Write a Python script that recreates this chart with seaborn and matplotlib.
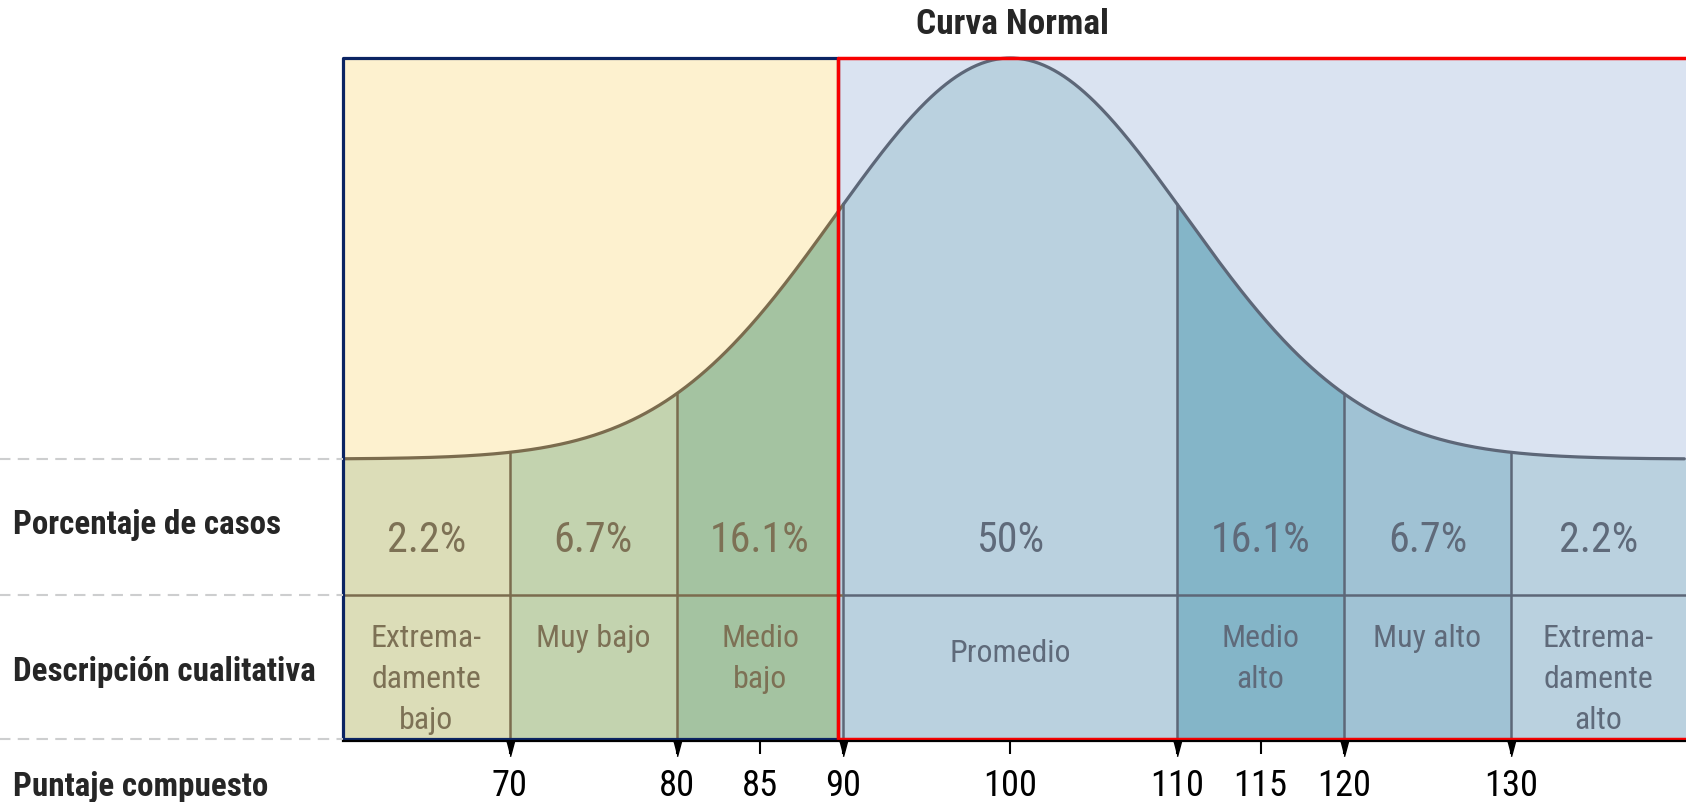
import numpy as np
import seaborn as sns
import matplotlib.pyplot as plt
from matplotlib import font_manager as fm

# scale and bands of the composite score
score_ticks = [70, 80, 85, 90, 100, 110, 115, 120, 130]
band_edges = [60, 70, 80, 90, 110, 120, 130, 140.5]
percents = ["2.2%", "6.7%", "16.1%", "50%", "16.1%", "6.7%", "2.2%"]
descriptions = ["Extrema-\ndamente\nbajo", "Muy bajo", "Medio\nbajo", "Promedio",
                "Medio\nalto", "Muy alto", "Extrema-\ndamente\nalto"]
row_labels = ["Porcentaje de casos", "Descripción cualitativa", "Puntaje compuesto"]
mean, sd = 100, 10.5

band_colors = ["#DCDDB8", "#C3D3AF", "#A4C3A1", "#BAD1DF", "#84B5C8", "#A0C2D4", "#BAD1DF"]
brown, slate = "#7B6C4E", "#5D6778"
brown_txt, slate_txt = "#7D7155", "#5F6A7A"
navy, red = "#0B2463", "#F80000"

sns.set_theme(style="white")

# the original uses a narrow grotesque; take the narrowest one installed
fonts = fm.fontManager.ttflist
names = {f.name for f in fonts}
stretch = "normal"
if "Liberation Sans Narrow" in names:
    fam = "Liberation Sans Narrow"
elif "Roboto Condensed" in names:
    fam = "Roboto Condensed"
elif any(f.name == "DejaVu Sans" and f.stretch == "condensed" for f in fonts):
    fam, stretch = "DejaVu Sans", "condensed"
else:
    fam = "Liberation Sans"
plt.rcParams['font.family'] = [fam, 'DejaVu Sans']
plt.rcParams['font.stretch'] = stretch

W, H = 1686, 803
fig = plt.figure(figsize=(W / 100, H / 100), dpi=100)
renderer = fig.canvas.get_renderer()


def fit_size(s, target_px, size, weight="normal"):
    t = fig.text(0, 0, s, fontsize=size, fontweight=weight)
    w = t.get_window_extent(renderer).width
    t.remove()
    return size * target_px / w


bold_size = fit_size(row_labels[0], 269, 24.4, "bold")
desc_size = fit_size("Muy bajo", 114, 24.5)
pct_size = fit_size("16.1%", 100, 31)
tick_size = fit_size("110", 54, 29)
title_size = fit_size("Curva Normal", 193, 25.5, "bold")

ax = fig.add_axes([343 / W, (H - 742) / H, (W - 343) / W, (742 - 59) / H])

# y: 0 = base of the curve, 1 = peak; table rows below zero
row_div = -0.339
box_bot = -0.698
ax.set_xlim(60, 140.5)
ax.set_ylim(-0.703, 1.0)
split = 89.7  # where the yellow and blue frames meet


def bell(x):
    return np.exp(-0.5 * ((np.asarray(x) - mean) / sd) ** 2)


# backgrounds above the curve
ax.fill_between([60, split], 0, 1, color="#FDF1CF", lw=0)
ax.fill_between([split, 140.5], 0, 1, color="#DAE3F1", lw=0)

# bands under the curve and down through the table
for i in range(len(band_colors)):
    lo, hi = band_edges[i], band_edges[i + 1]
    lo = split if lo == 90 else lo
    hi = split if hi == 90 else hi
    seg = np.linspace(lo, hi, 200)
    ax.fill_between(seg, box_bot, bell(seg), color=band_colors[i], lw=0)

# curve
xl = np.linspace(60, 90, 300)
xr = np.linspace(90, 140.4, 500)
sns.lineplot(x=xl, y=bell(xl), ax=ax, color=brown, lw=2.3, clip_on=False)
sns.lineplot(x=xr, y=bell(xr), ax=ax, color=slate, lw=2.3, clip_on=False)

# band dividers
for b in band_edges[1:-1]:
    c = brown if b < 90 else slate
    ax.plot([b, b], [box_bot, bell(b)], color=c, lw=1.8)
ax.plot([60, 90], [row_div, row_div], color=brown, lw=1.8)
ax.plot([90, 140.5], [row_div, row_div], color=slate, lw=1.8)

# texts inside the table (one baseline per line)
line_step = 0.1022
for i in range(len(percents)):
    cx = (band_edges[i] + band_edges[i + 1]) / 2
    tc = brown_txt if cx < 90 else slate_txt
    ax.text(cx, -0.229, percents[i], ha="center", va="baseline", fontsize=pct_size, color=tc)
    first = -0.5037 if descriptions[i] == "Promedio" else -0.4663
    for j, line in enumerate(descriptions[i].split("\n")):
        ax.text(cx, first - j * line_step, line, ha="center", va="baseline",
                fontsize=desc_size, color=tc)

# outlines
ax.plot([60, 60, split, split, 60], [box_bot, 1, 1, box_bot, box_bot],
        color=navy, lw=2.3, clip_on=False)
ax.plot([150, split, split, 150], [1, 1, box_bot, box_bot], color=red, lw=2.5, clip_on=False)

# dashed guides in the left margin
for yy in [0, row_div, box_bot]:
    ax.plot([39.4, 60], [yy, yy], color="#CDCECF", lw=1.5, ls=(0, (5.5, 3.5)), clip_on=False)

# axis
for s in ["left", "right", "top"]:
    ax.spines[s].set_visible(False)
ax.spines["bottom"].set_color("black")
ax.spines["bottom"].set_linewidth(1.6)
ax.set_yticks([])
ax.set_xticks(score_ticks)
ax.set_xticklabels([str(t) for t in score_ticks])
ax.tick_params(axis="x", direction="out", length=9.5, width=1.5, color="black",
               pad=9, labelsize=tick_size, labelcolor="black", bottom=True)
ax.plot(band_edges[1:-1], [ax.get_ylim()[0]] * 6, ls="", marker=[(-4, 0), (4, 0), (0, -15)],
        ms=22, color="black", clip_on=False)

# row labels and title
fig.text(13 / W, 1 - 534 / H, row_labels[0], fontsize=bold_size, fontweight="bold", va="baseline")
fig.text(13 / W, 1 - 681 / H, row_labels[1], fontsize=bold_size, fontweight="bold", va="baseline")
fig.text(13 / W, 1 - 796 / H, row_labels[2], fontsize=bold_size, fontweight="bold", va="baseline")
fig.text(1013 / W, 1 - 24 / H, "Curva Normal", fontsize=title_size, fontweight="bold",
         ha="center", va="center")

fig.savefig("out.png", dpi=100)
